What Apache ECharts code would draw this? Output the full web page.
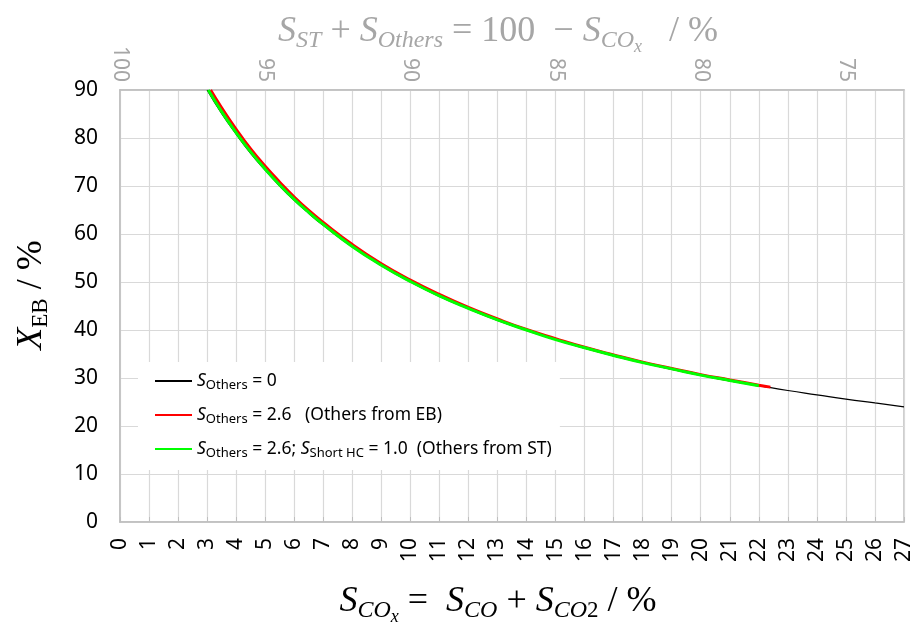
<!DOCTYPE html>
<html>
<head>
<meta charset="utf-8">
<title>X_EB vs S_COx</title>
<script src="https://cdn.jsdelivr.net/npm/echarts@6.0.0/dist/echarts.min.js"></script>
<style>
html, body { margin: 0; padding: 0; background: #fff; }
#main { width: 917px; height: 623px; }
</style>
</head>
<body>
<div id="main"></div>
<script>
// S_COx (x) and X_EB (y)
var blackX = [3.0, 3.5, 4, 4.5, 5, 5.5, 6, 6.5, 7, 8, 9, 10, 11, 12, 13, 14, 15, 16, 17, 18, 19, 20, 21, 22, 23, 24, 25, 26, 27];
var blackY = [90.0, 85.1, 80.8, 76.8, 73.3, 70.0, 67.0, 64.3, 61.8, 57.3, 53.4, 50.0, 47.0, 44.4, 42.0, 39.9, 38.0, 36.2, 34.6, 33.2, 31.8, 30.6, 29.4, 28.4, 27.4, 26.5, 25.6, 24.8, 24.0];

var redX = [3.12, 3.5, 4, 4.5, 5, 5.5, 6, 6.5, 7, 8, 9, 10, 11, 12, 13, 14, 15, 16, 17, 18, 19, 20, 21, 22, 22.4];
var redY = [90.0, 86.3, 81.8, 77.7, 74.1, 70.8, 67.7, 64.9, 62.4, 57.8, 53.8, 50.4, 47.4, 44.7, 42.3, 40.1, 38.2, 36.4, 34.8, 33.3, 32.0, 30.7, 29.6, 28.5, 28.1];

var greenX = [3.04, 3.5, 4, 4.5, 5, 5.5, 6, 6.5, 7, 8, 9, 10, 11, 12, 13, 14, 15, 16, 17, 18, 19, 20, 21, 22];
var greenY = [90.0, 85.5, 81.1, 77.1, 73.5, 70.2, 67.2, 64.5, 62.0, 57.4, 53.5, 50.1, 47.1, 44.5, 42.1, 40.0, 38.0, 36.3, 34.7, 33.2, 31.9, 30.6, 29.5, 28.4];

var seriesNames = ['SOthers = 0', 'SOthers = 2.6 (Others from EB)', 'SOthers = 2.6; SShort HC = 1.0 (Others from ST)'];
var legendLabels = [
    '{i|S}{s|Others}{t| = 0}',
    '{i|S}{s|Others}{t| = 2.6   (Others from EB)}',
    '{i|S}{s|Others}{t| = 2.6; }{i|S}{s|Short HC}{t| = 1.0  (Others from ST)}'
];

function pairs(xs, ys) {
    return xs.map(function (x, i) { return [x, ys[i]]; });
}

var serif = "'Liberation Serif', 'DejaVu Serif', serif";
var sans = "'Noto Sans', 'Open Sans', sans-serif";

function mathRich(color) {
    return {
        m: { fontFamily: serif, fontStyle: 'italic', fontSize: 36, color: color, verticalAlign: 'middle' },
        mp: { fontFamily: serif, fontStyle: 'italic', fontSize: 36, color: color, padding: [0, 0, 0, 22], verticalAlign: 'middle' },
        u: { fontFamily: serif, fontSize: 36, color: color, verticalAlign: 'middle' },
        ue: { fontFamily: serif, fontSize: 36, color: color, padding: [0, 28, 0, 0], verticalAlign: 'middle' },
        s: { fontFamily: serif, fontStyle: 'italic', fontSize: 24, color: color, padding: [18, 0, 0, 0], verticalAlign: 'middle' },
        su: { fontFamily: serif, fontSize: 23, color: color, padding: [18, 0, 0, 0], verticalAlign: 'middle' },
        ss: { fontFamily: serif, fontStyle: 'italic', fontSize: 18, color: color, padding: [30, 0, 0, 0], verticalAlign: 'middle' }
    };
}

var option = {
    animation: false,
    backgroundColor: '#fff',
    grid: {
        left: 120,
        right: 13,
        top: 90,
        bottom: 101,
        outerBoundsMode: 'none',
        show: true,
        borderColor: '#bfbfbf',
        borderWidth: 1.5
    },
    legend: {
        orient: 'vertical',
        left: 138,
        top: 362,
        backgroundColor: '#fff',
        padding: [10, 8, 10, 16],
        itemWidth: 37,
        itemHeight: 14,
        itemGap: 14,
        itemStyle: { opacity: 0 },
        data: seriesNames,
        formatter: function (name) {
            return legendLabels[seriesNames.indexOf(name)];
        },
        textStyle: {
            fontFamily: sans,
            fontSize: 17,
            color: '#000',
            rich: {
                i: { fontFamily: sans, fontStyle: 'italic', fontSize: 17.5, color: '#000', verticalAlign: 'middle' },
                t: { fontFamily: sans, fontSize: 17.5, color: '#000', verticalAlign: 'middle' },
                s: { fontFamily: sans, fontSize: 13, color: '#000', padding: [9, 0, 0, 0], verticalAlign: 'middle' }
            }
        }
    },
    xAxis: [{
        type: 'value',
        position: 'bottom',
        min: 0,
        max: 27,
        interval: 1,
        axisLine: { lineStyle: { color: '#bfbfbf', width: 1.5 } },
        axisTick: { show: true, inside: true, length: 5, lineStyle: { color: '#bfbfbf' } },
        splitLine: { show: true, lineStyle: { color: '#d9d9d9', width: 1.2 } },
        axisLabel: {
            rotate: 90,
            margin: 16,
            fontFamily: sans,
            fontSize: 21,
            color: '#000'
        },
        name: '{m|S}{s|CO}{ss|x}{u| =  }{m|S}{s|CO}{u| + }{m|S}{s|CO}{su|2}{ue| / %}',
        nameLocation: 'middle',
        nameGap: 56,
        nameMoveOverlap: false,
        nameTextStyle: { rich: mathRich('#000') }
    }, {
        type: 'value',
        position: 'top',
        min: 0,
        max: 27,
        interval: 5,
        axisLine: { show: true, lineStyle: { color: '#bfbfbf', width: 1.5 } },
        axisTick: { show: false },
        splitLine: { show: false },
        axisLabel: {
            rotate: 90,
            margin: 8,
            fontFamily: sans,
            fontSize: 21,
            color: '#a6a6a6',
            showMaxLabel: false,
            formatter: function (v) { return 100 - v; }
        },
        name: '{m|S}{s|ST}{u| + }{m|S}{s|Others}{u| = 100  − }{m|S}{s|CO}{ss|x}{ue|   / %}',
        nameLocation: 'middle',
        nameGap: 34,
        nameMoveOverlap: false,
        nameTextStyle: { rich: mathRich('#a6a6a6') }
    }],
    yAxis: {
        type: 'value',
        min: 0,
        max: 90,
        interval: 10,
        axisLine: { show: true, lineStyle: { color: '#bfbfbf', width: 1.5 } },
        axisTick: { show: false },
        splitLine: { show: true, lineStyle: { color: '#d9d9d9', width: 1.2 } },
        axisLabel: {
            margin: 22,
            fontFamily: sans,
            fontSize: 21,
            color: '#000'
        },
        name: '{mp|X}{su|EB}{u| / %}',
        nameLocation: 'middle',
        nameRotate: 90,
        nameGap: 68,
        nameMoveOverlap: false,
        nameTextStyle: { rich: mathRich('#000') }
    },
    series: [{
        name: seriesNames[0],
        type: 'line',
        xAxisIndex: 0,
        smooth: true,
        symbol: 'none',
        lineStyle: { color: '#000', width: 1.2 },
        itemStyle: { color: '#000' },
        data: pairs(blackX, blackY)
    }, {
        name: seriesNames[1],
        type: 'line',
        xAxisIndex: 0,
        smooth: true,
        symbol: 'none',
        lineStyle: { color: '#ff0000', width: 3 },
        itemStyle: { color: '#ff0000' },
        data: pairs(redX, redY)
    }, {
        name: seriesNames[2],
        type: 'line',
        xAxisIndex: 0,
        smooth: true,
        symbol: 'none',
        lineStyle: { color: '#00ff00', width: 3 },
        itemStyle: { color: '#00ff00' },
        data: pairs(greenX, greenY)
    }]
};

var chart = echarts.init(document.getElementById('main'));
chart.setOption(option);
</script>
</body>
</html>
